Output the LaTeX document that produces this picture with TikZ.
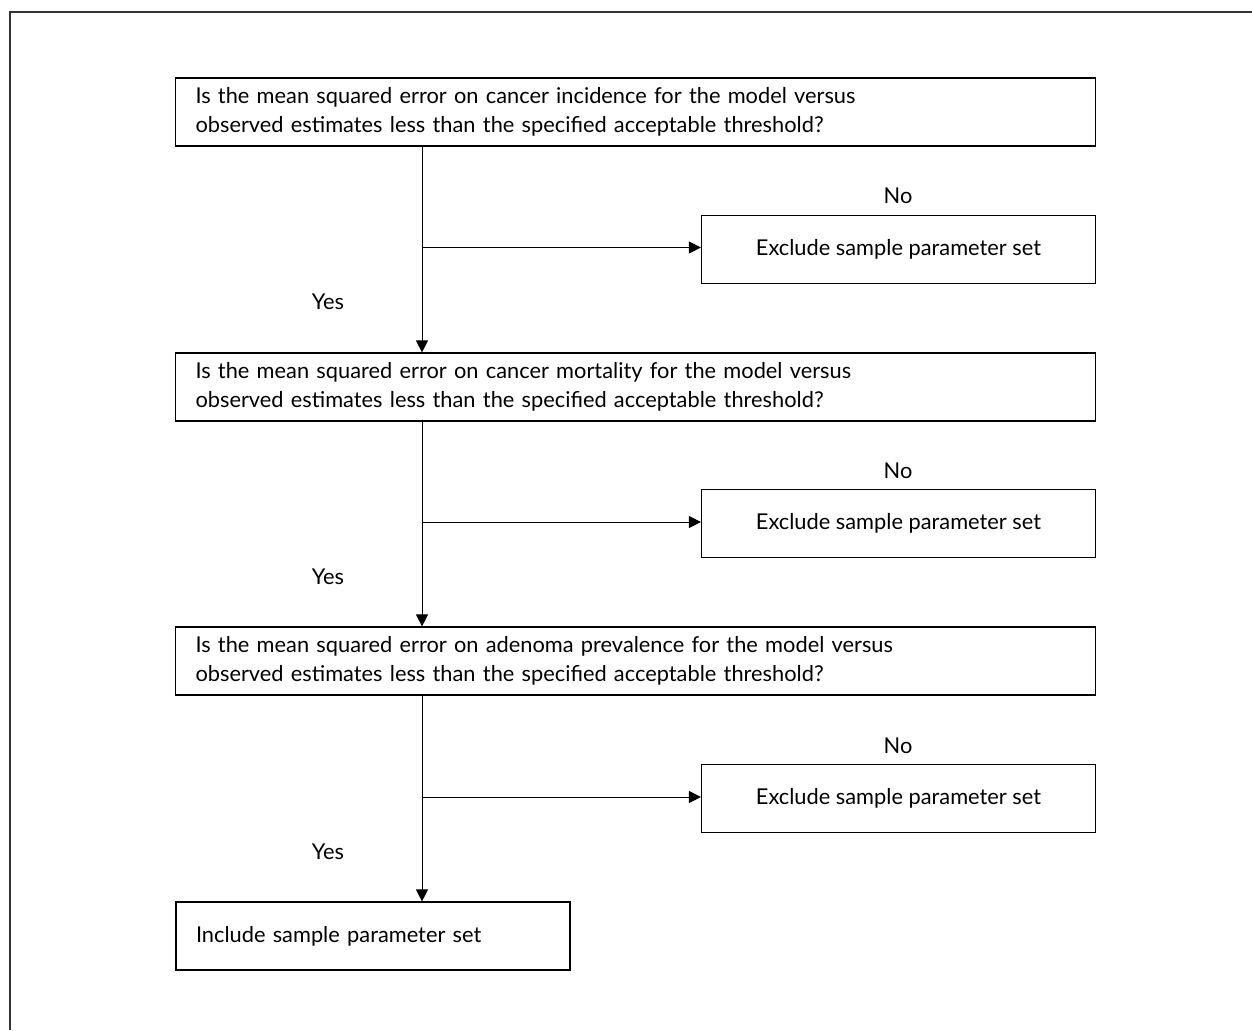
\documentclass[tikz,border=0pt]{standalone}
\usepackage{fontspec}
\setmainfont{Lato}
\usetikzlibrary{arrows.meta}
\begin{document}
\begin{tikzpicture}[x=1pt,y=-1pt,
  every node/.style={font=\fontsize{21.8}{28.5}\selectfont},
  question/.style={draw=black,line width=1.2pt,minimum width=920pt,minimum height=68pt,
    inner xsep=20pt,text width=880pt,align=left},
  outcome/.style={draw=black,line width=1.2pt,minimum width=394pt,minimum height=68pt,
    inner xsep=10pt,align=center},
  include/.style={draw=black,line width=1.2pt,minimum width=394pt,minimum height=68pt,
    inner xsep=20pt,text width=354pt,align=left},
  flow/.style={line width=1pt,-{Triangle[length=12pt,width=12pt]}},
  tag/.style={inner sep=0pt}]
\useasboundingbox (0,0) rectangle (1252,1030);
% outer frame (open to the right and bottom)
\draw[line width=1.2pt,black!80] (1252,12) -- (10,12) -- (10,1030);

% decision boxes
\node[question] (q1) at (635.5,112) {Is the mean squared error on cancer incidence for the model versus\\observed estimates less than the specified acceptable threshold?};
\node[question] (q2) at (635.5,387) {Is the mean squared error on cancer mortality for the model versus\\observed estimates less than the specified acceptable threshold?};
\node[question] (q3) at (635.5,661) {Is the mean squared error on adenoma prevalence for the model versus\\observed estimates less than the specified acceptable threshold?};

% outcome boxes
\node[outcome] (x1) at (898.5,249.5) {Exclude sample parameter set};
\node[outcome] (x2) at (898.5,523.5) {Exclude sample parameter set};
\node[outcome] (x3) at (898.5,798.5) {Exclude sample parameter set};
\node[include] (inc) at (373,936) {Include sample parameter set};

% labels
\node[tag] (n1) at (898,196) {No};
\node[tag] (n2) at (898,471) {No};
\node[tag] (n3) at (898,746) {No};
\node[tag] (y1) at (328,302) {Yes};
\node[tag] (y2) at (328,577) {Yes};
\node[tag] (y3) at (328,852) {Yes};

% trunk line and branch points
\coordinate (trunk) at (422,0);
\coordinate (j1) at (422,247.5);
\coordinate (j2) at (422,522);
\coordinate (j3) at (422,797);

\draw[flow] (q1.south -| trunk) -- (q2.north -| trunk);
\draw[flow] (q2.south -| trunk) -- (q3.north -| trunk);
\draw[flow] (q3.south -| trunk) -- (inc.north -| trunk);
\draw[flow] (j1) -- (j1 -| x1.west);
\draw[flow] (j2) -- (j2 -| x2.west);
\draw[flow] (j3) -- (j3 -| x3.west);
\end{tikzpicture}
\end{document}
